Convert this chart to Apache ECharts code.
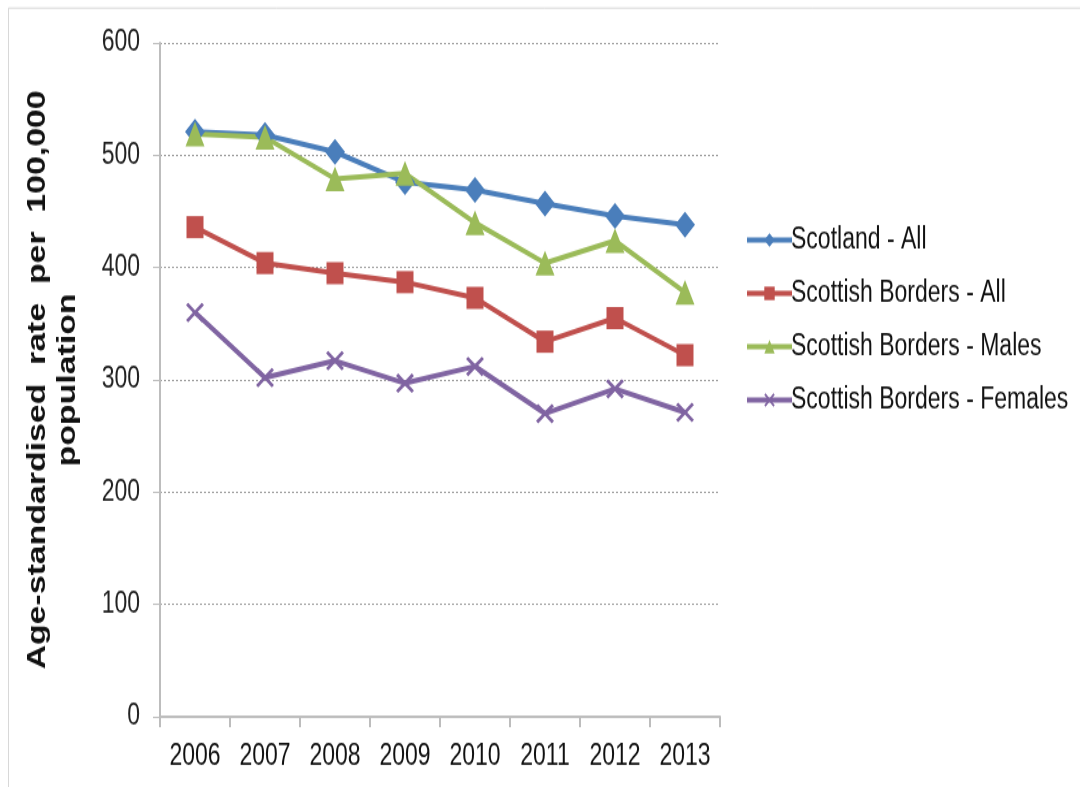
<!DOCTYPE html>
<html><head><meta charset="utf-8">
<script src="https://cdn.jsdelivr.net/npm/echarts@6/dist/echarts.min.js"></script>
<style>
html,body{margin:0;padding:0;background:#fff;overflow:hidden}
#wrap{width:1080px;height:787px;overflow:hidden;background:#fff}
#c{width:1080px;height:605px;transform:scaleY(1.3008);transform-origin:0 0}
</style>
</head><body><div id="wrap"><div id="c"></div></div>
<script>
const years = ['2006','2007','2008','2009','2010','2011','2012','2013'];
const scotlandAll = [521, 518, 503, 476, 469, 457, 446, 438];
const bordersAll = [436, 404, 395, 387, 373, 334, 355, 322];
const bordersMales = [519, 516, 479, 484, 440, 404, 424, 378];
const bordersFemales = [360, 302, 317, 297, 312, 270, 292, 271];
const yTicks = [0, 100, 200, 300, 400, 500, 600];

const xPath = 'path://M0,1.2 L1.2,0 L5,3.8 L8.8,0 L10,1.2 L6.2,5 L10,8.8 L8.8,10 L5,6.2 L1.2,10 L0,8.8 L3.8,5 Z';
const font = '"Liberation Sans", Arial, sans-serif';

const chart = echarts.init(document.getElementById('c'), null, {renderer: 'canvas'});
function mk(name, data, color, symbol, size) {
  return {
    name, type: 'line', data, symbol, symbolSize: size,
    lineStyle: {color, width: 4},
    itemStyle: {color},
    z: 3
  };
}
chart.setOption({
  animation: false,
  backgroundColor: '#fff',
  textStyle: {fontFamily: font},
  grid: {left: 160, right: 360, top: 33, bottom: 54},
  xAxis: {
    type: 'category', data: years, boundaryGap: true,
    axisLine: {lineStyle: {color: '#bdbdbd', width: 2}},
    axisTick: {show: true, length: 8, lineStyle: {color: '#bdbdbd', width: 2}},
    axisLabel: {color: '#111', fontSize: 23, margin: 19, fontFamily: font}
  },
  yAxis: {
    type: 'value', min: yTicks[0], max: yTicks[yTicks.length-1], interval: 100,
    axisLine: {show: true, lineStyle: {color: '#bdbdbd', width: 2}},
    axisTick: {show: true, length: 7, lineStyle: {color: '#bdbdbd', width: 1}},
    axisLabel: {color: '#222', fontSize: 23, margin: 20, fontFamily: font},
    splitLine: {show: true, lineStyle: {color: '#a0a0a0', type: [2, 2], width: 1}}
  },
  legend: {
    orient: 'vertical', left: 740, top: 168,
    itemWidth: 45, itemHeight: 13, itemGap: 18,
    lineStyle: {width: 4},
    textStyle: {fontSize: 23, color: '#111', fontFamily: font, padding: [0, 0, 0, -6]},
    data: ['Scotland - All','Scottish Borders - All','Scottish Borders - Males','Scottish Borders - Females']
  },
  graphic: [
    {type: 'rect', shape: {x: 8.5, y: 6.2, width: 1200, height: 1000}, style: {fill: 'none', stroke: '#d8d8d8', lineWidth: 1}, silent: true, z: -1},
    {type: 'text', x: 53, y: 292, rotation: Math.PI/2, style: {
      text: 'Age-standardised  rate  per  100,000\npopulation', font: 'bold 26px ' + font,
      fill: '#111', align: 'center', verticalAlign: 'middle', lineHeight: 30
    }}
  ],
  series: [
    mk('Scotland - All', scotlandAll, '#4A7EBB', 'diamond', [20, 20]),
    mk('Scottish Borders - All', bordersAll, '#C0504D', 'rect', [17, 17]),
    mk('Scottish Borders - Males', bordersMales, '#9BBB59', 'triangle', [19, 19]),
    mk('Scottish Borders - Females', bordersFemales, '#8064A2', xPath, [18, 15])
  ]
});
</script></body></html>
